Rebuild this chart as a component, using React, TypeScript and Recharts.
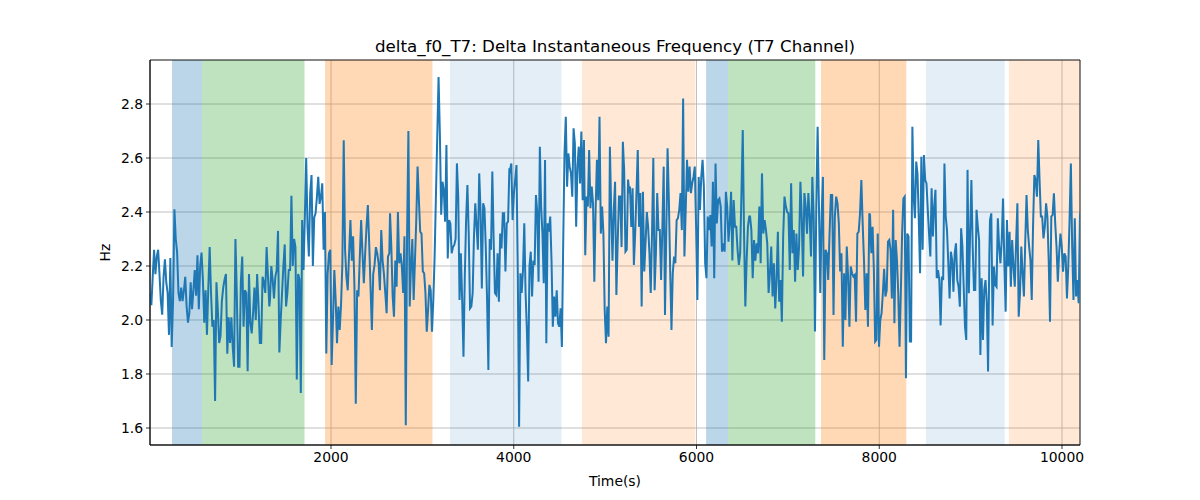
import React from 'react';
import { LineChart, Line, XAxis, YAxis, CartesianGrid, ReferenceArea, Label } from 'recharts';

// Signal readings, in segments (start time, end time, values evenly sampled in between)
const SEG1 = [2.10, 2.055, 2.16, 2.26, 2.17, 2.235, 2.26, 2.17, 2.07, 2.02, 2.16, 2.225, 2.14, 2.10, 1.945, 2.23, 1.90, 2.07, 2.41, 2.30, 2.25, 2.10, 2.07, 2.12, 2.07, 2.11, 2.16, 2.05, 1.99, 2.025, 2.14, 2.04, 2.11, 2.185, 2.09, 2.24, 2.04, 2.20, 2.25, 2.15, 1.99, 2.11, 1.945, 2.12, 2.27, 2.10, 1.975, 2.00, 1.70, 2.14, 2.04, 1.915, 1.94, 2.07, 2.12, 2.15, 2.17, 1.875, 2.01, 1.915, 2.01, 1.90, 1.827, 2.30, 2.10, 1.827, 1.827, 2.14, 2.235, 1.975, 2.11, 2.10, 1.81, 2.17, 1.99, 1.95, 2.025, 2.12, 2.00, 2.17, 2.06, 1.915, 1.915, 2.16, 2.14, 2.10, 2.27, 2.16, 2.05];
const SEG2 = [2.075, 2.20, 2.15, 2.08, 2.16, 2.185, 2.33, 1.88, 2.00, 2.10, 2.20, 2.28, 2.05, 2.10, 2.185, 2.185, 2.46, 2.20, 2.30, 2.27, 1.78, 2.17, 2.15, 1.73, 2.37, 2.185, 2.38, 2.60, 2.345, 2.235, 2.47, 2.537, 2.20, 2.38, 2.395, 2.455, 2.53, 2.43, 2.455, 2.506, 2.26, 2.40, 1.876, 2.17, 2.247, 2.26, 1.833, 2.00, 2.185, 2.075, 1.914, 2.05, 1.963, 2.056, 2.21, 2.666, 2.26, 2.16, 2.11, 2.247, 2.37, 2.22, 2.31, 2.123, 1.69, 2.11, 2.087, 2.235, 2.37, 2.247, 2.136, 2.247, 2.345, 2.426, 2.284, 2.123, 1.963, 2.17, 2.204, 2.27, 2.247, 2.21, 2.11, 2.333, 2.22, 2.17, 2.10, 2.025, 2.235, 2.247];
const SEG3 = [2.395, 2.27, 2.087, 2.012, 2.22, 2.123, 2.40, 2.21, 2.247, 2.20, 2.10, 2.31, 1.61, 2.32, 2.70, 2.05, 2.20, 2.30, 2.074, 2.22, 2.37, 2.568, 2.444, 2.327, 2.32, 2.18, 2.173, 2.10, 1.957, 2.037, 2.13, 2.11, 1.957, 2.074, 2.235, 2.46, 2.68, 2.90, 2.69, 2.39, 2.512, 2.48, 2.364, 2.648, 2.228, 2.37, 2.358, 2.247, 2.27, 2.278, 2.30, 2.58, 2.457, 2.074, 2.247, 2.074, 1.864, 2.16, 2.37, 2.50, 2.32, 2.043, 2.05, 2.10, 2.31, 2.432, 2.345, 2.26, 2.543, 2.408, 2.117, 2.432, 2.414, 2.27, 2.074, 1.815, 2.30, 2.26, 2.55, 2.30, 2.10, 2.093, 2.247, 2.068, 2.32, 2.265, 2.395, 2.395, 2.18, 2.358, 2.364, 2.562];
const SEG4 = [2.555, 2.58, 2.37, 2.47, 2.52, 2.574, 2.173, 1.605, 2.173, 2.10, 2.185, 2.358, 2.10, 1.963, 1.772, 2.20, 2.253, 2.087, 2.22, 2.204, 2.463, 2.40, 2.142, 2.642, 2.42, 2.32, 2.136, 2.593, 1.914, 2.358, 2.327, 2.383, 2.22, 1.975, 2.087, 2.012, 2.11, 1.988, 1.975, 2.043, 1.90, 2.284, 2.617, 2.753, 2.494, 2.617, 2.568, 2.543, 2.457, 2.71, 2.654, 2.345, 2.568, 2.642, 2.506, 2.698, 2.444, 2.667, 2.24, 2.457, 2.42, 2.63, 2.414, 2.494, 2.432, 2.142, 2.408, 2.593, 2.444, 2.753, 2.32, 2.42, 2.32, 2.037, 1.914, 2.05, 1.938, 2.642, 2.408, 2.22, 2.408, 2.512, 2.093, 2.284, 2.457, 2.457, 2.27, 2.66, 2.555, 2.253, 2.26, 2.52, 2.47];
const SEG5 = [2.494, 2.345, 2.488, 2.204, 2.32, 2.47, 2.63, 2.345, 2.47, 2.05, 2.475, 2.18, 2.284, 2.40, 2.345, 2.247, 2.10, 2.32, 2.60, 2.11, 2.247, 2.47, 2.333, 2.333, 2.148, 2.345, 2.568, 2.019, 2.32, 2.636, 2.444, 2.185, 1.963, 2.173, 2.235, 2.21, 2.37, 2.377, 2.408, 2.47, 2.333, 2.82, 2.235, 2.408, 2.593, 2.475, 2.568, 2.47, 2.506, 2.53, 2.568, 2.345, 2.074, 2.53, 2.408, 2.53, 2.593, 2.494, 2.21, 2.155, 2.383, 2.333, 2.389, 2.272, 2.512, 2.155, 2.58, 2.358, 2.444, 2.45, 2.42, 2.253, 2.284, 2.253, 2.475, 2.42, 2.29, 2.358, 2.475, 2.22, 2.444, 2.345, 2.345, 2.26, 2.204, 2.247, 2.47, 2.704, 2.32, 2.05, 2.22, 2.345, 2.383];
const SEG6 = [2.383, 2.333, 2.155, 2.296, 2.22, 2.284, 2.247, 2.42, 2.21, 2.543, 2.32, 2.37, 2.333, 2.284, 2.10, 2.173, 2.272, 2.087, 2.21, 2.043, 2.148, 2.327, 2.068, 2.148, 1.994, 2.309, 2.457, 2.42, 2.40, 2.395, 2.185, 2.506, 2.247, 2.333, 2.142, 2.32, 2.185, 2.272, 2.512, 2.383, 2.161, 2.47, 2.42, 2.32, 2.47, 2.383, 2.235, 2.53, 2.383, 1.957, 2.42, 2.716, 2.42, 2.10, 2.383, 2.53, 1.852, 2.26, 2.247, 2.148, 2.32, 2.463, 2.463, 2.019, 2.383, 2.457, 2.432, 2.358, 2.18, 2.247, 1.901, 2.173, 2.00, 2.272, 2.161, 1.975, 2.198, 2.173, 2.161, 2.167, 1.994, 2.32, 2.327, 2.395, 2.518, 2.358, 2.22, 2.037, 2.173, 1.975, 2.395];
const SEG7 = [2.389, 2.247, 2.345, 2.185, 1.92, 1.926, 2.32, 1.901, 2.00, 2.025, 2.099, 2.19, 2.087, 2.11, 2.29, 2.296, 2.26, 2.08, 2.408, 1.988, 2.296, 2.222, 2.099, 1.901, 2.099, 2.32, 2.45, 2.457, 1.784, 2.32, 2.309, 1.92, 1.92, 2.716, 2.457, 2.377, 2.587, 2.543, 2.37, 2.173, 2.605, 2.26, 2.611, 2.518, 2.506, 2.408, 2.32, 2.235, 2.488, 2.309, 2.42, 2.482, 2.155, 2.185, 2.148, 1.98, 2.161, 2.148, 2.58, 2.383, 2.333, 2.21, 2.08, 2.253, 2.222, 2.105, 2.247, 2.284, 2.148, 2.123, 2.049, 2.34, 2.272, 2.123, 1.975, 1.926, 2.556, 2.099, 2.32, 2.518, 2.272, 2.111, 2.111, 2.408, 2.345, 2.296, 1.87, 2.155, 1.926, 2.111, 2.148, 2.062, 1.809, 2.247];
const SEG8 = [2.37, 2.395, 1.98, 2.198, 2.13, 2.123, 2.377, 2.272, 2.21, 2.296, 2.45, 2.21, 2.031, 2.37, 2.198, 2.327, 2.123, 2.296, 2.198, 2.123, 2.284, 2.432, 2.012, 2.099, 2.272, 2.173, 2.087, 2.284, 2.463, 2.333, 2.272, 2.222, 2.074, 2.345, 2.537, 2.518, 2.457, 2.667, 2.518, 2.383, 2.383, 2.302, 2.345, 2.432, 2.383, 2.222, 1.994, 2.383, 2.389, 2.469, 2.358, 2.272, 2.142, 2.247, 2.32, 2.272, 2.179, 2.247, 2.235, 2.08, 2.198, 2.37, 2.58, 2.272, 2.074, 2.377, 2.087, 2.148, 2.062, 2.395];

const SEG_STARTS = [19, 1332, 2646, 3959, 5272, 6586, 7899, 9212];
const SEG_ENDS = [1325, 2638, 3952, 5265, 6577, 7891, 9205, 10197];
const SEG_VALUES = [SEG1, SEG2, SEG3, SEG4, SEG5, SEG6, SEG7, SEG8];

// Shaded spans
const SPAN_STARTS = [260, 589, 1935, 3302, 4746, 6105, 6346, 7362, 8511, 9419];
const SPAN_ENDS = [589, 1710, 3110, 4522, 5988, 6346, 7300, 8296, 9372, 10197];
const SPAN_KINDS = ['blue', 'green', 'orange', 'lightblue', 'lightorange', 'blue', 'green', 'orange', 'lightblue', 'lightorange'];

const X_TICKS = [2000, 4000, 6000, 8000, 10000];
const Y_TICKS = [1.6, 1.8, 2.0, 2.2, 2.4, 2.6, 2.8];
const X_DOMAIN = [19, 10197];
const Y_DOMAIN = [1.537, 2.963];

const SPAN_STYLE: Record<string, { fill: string; opacity: number }> = {
  blue: { fill: '#1f77b4', opacity: 0.3 },
  green: { fill: '#2ca02c', opacity: 0.3 },
  orange: { fill: '#ff7f0e', opacity: 0.3 },
  lightblue: { fill: '#1f77b4', opacity: 0.12 },
  lightorange: { fill: '#ff7f0e', opacity: 0.17 },
};

const data = SEG_VALUES.flatMap((vals, s) =>
  vals.map((v, i) => ({
    t: SEG_STARTS[s] + (i * (SEG_ENDS[s] - SEG_STARTS[s])) / (vals.length - 1),
    v,
  }))
);

const FONT = 'DejaVu Sans, sans-serif';
const tickStyle = { fontSize: 13.9, fill: '#000', fontFamily: FONT };

export default function App() {
  return (
    <div style={{ position: 'absolute', left: 0, top: 0, width: 1200, height: 500, background: '#fff', fontFamily: FONT }}>
      <svg style={{ position: 'absolute', left: 0, top: 0 }} width={1200} height={60}>
        <text x={615} y={51.7} textAnchor="middle" fontSize={16.7} fontFamily={FONT} fill="#000">
          delta_f0_T7: Delta Instantaneous Frequency (T7 Channel)
        </text>
      </svg>
      <LineChart width={1200} height={500} data={data} margin={{ top: 60, right: 120, bottom: 0, left: 0 }}>
        <CartesianGrid stroke="#b0b0b0" strokeWidth={0.8} />
        {SPAN_STARTS.map((x1, i) => (
          <ReferenceArea
            key={i}
            x1={x1}
            x2={SPAN_ENDS[i]}
            y1={Y_DOMAIN[0]}
            y2={Y_DOMAIN[1]}
            fill={SPAN_STYLE[SPAN_KINDS[i]].fill}
            fillOpacity={SPAN_STYLE[SPAN_KINDS[i]].opacity}
            stroke="none"
            ifOverflow="hidden"
          />
        ))}
        <XAxis
          dataKey="t"
          type="number"
          domain={X_DOMAIN}
          ticks={X_TICKS}
          allowDataOverflow
          height={55}
          tickSize={4}
          tickMargin={3}
          tick={tickStyle}
          stroke="#000"
          axisLine={{ stroke: '#000', strokeWidth: 0.8 }}
          tickLine={{ stroke: '#000', strokeWidth: 0.8 }}
        >
          <Label
            content={(props: any) => {
              const vb = props.viewBox || { x: 150, y: 445, width: 930 };
              return (
                <text x={vb.x + vb.width / 2} y={vb.y + 41} textAnchor="middle" fontSize={13.9} fontFamily={FONT} fill="#000">
                  Time(s)
                </text>
              );
            }}
          />
        </XAxis>
        <YAxis
          type="number"
          domain={Y_DOMAIN}
          ticks={Y_TICKS}
          allowDataOverflow
          width={150}
          tickSize={4}
          tickMargin={3}
          tick={tickStyle}
          tickFormatter={(v: number) => v.toFixed(1)}
          axisLine={{ stroke: '#000', strokeWidth: 0.8 }}
          tickLine={{ stroke: '#000', strokeWidth: 0.8 }}
        >
          <Label
            content={(props: any) => {
              const vb = props.viewBox || { x: 0, y: 60, height: 385 };
              const cx = 105;
              const cy = vb.y + vb.height / 2;
              return (
                <text x={cx} y={cy} transform={`rotate(-90 ${cx} ${cy})`} textAnchor="middle" dominantBaseline="central" fontSize={13.9} fontFamily={FONT} fill="#000">
                  Hz
                </text>
              );
            }}
          />
        </YAxis>
        <Line type="linear" dataKey="v" stroke="#1f77b4" strokeWidth={2} dot={false} isAnimationActive={false} />
        <ReferenceArea
          x1={X_DOMAIN[0]}
          x2={X_DOMAIN[1]}
          y1={Y_DOMAIN[0]}
          y2={Y_DOMAIN[1]}
          fill="none"
          stroke="#000"
          strokeWidth={0.8}
        />
      </LineChart>
    </div>
  );
}
